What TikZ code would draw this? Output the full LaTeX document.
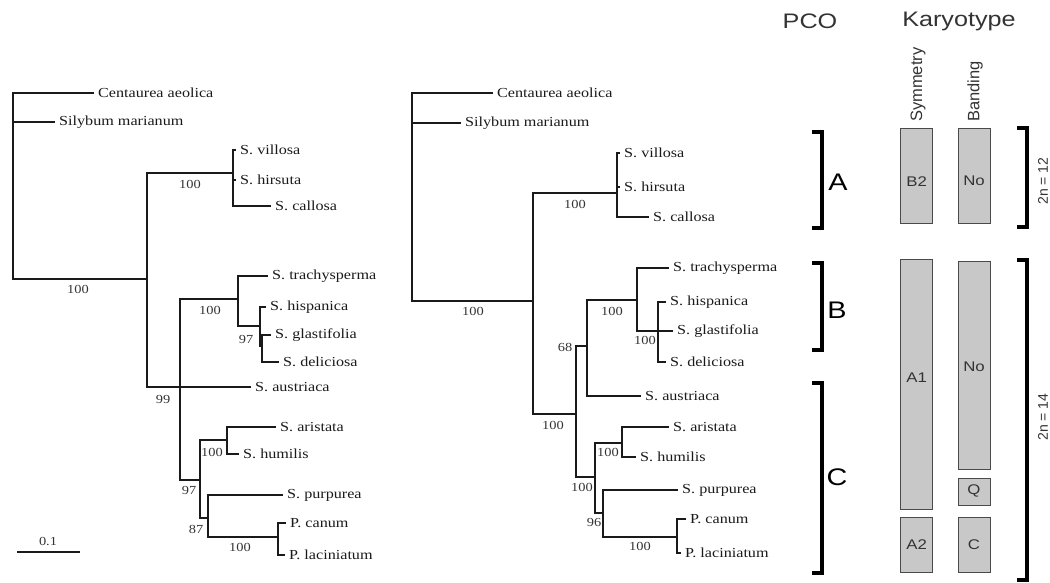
\documentclass[tikz,border=0pt]{standalone}
\usepackage{fontspec}
\setmainfont{Liberation Serif}[FakeStretch=1.17]
\newfontfamily\arialwide{Liberation Sans}[FakeStretch=1.2]
\newfontfamily\arialfont{Liberation Sans}
\definecolor{inkA}{HTML}{1A1A1A}
\definecolor{inkB}{HTML}{333333}
\definecolor{boxfill}{HTML}{C8C8C8}
\definecolor{boxline}{HTML}{4A4A4A}
\begin{document}
\begin{tikzpicture}[x=1pt,y=-1pt,
  branch/.style={line width=1.9pt, draw=inkA, line cap=rect, line join=miter},
  taxon/.style={anchor=west, inner sep=0pt, text=inkA, font=\fontsize{13.8}{16}\selectfont},
  boot/.style={inner sep=0pt, text=inkB, font=\fontsize{12.3}{14}\selectfont},
  brk/.style={line width=3.4pt, draw=black, line join=miter},
  kbox/.style={fill=boxfill, draw=boxline, line width=0.9pt},
  ktext/.style={inner sep=0pt, text=inkB, font=\arialwide\fontsize{14}{16}\selectfont},
  head/.style={inner sep=0pt, text=inkB, font=\arialwide\fontsize{21}{24}\selectfont},
  colhead/.style={inner sep=0pt, text=inkB, rotate=90, anchor=west, font=\arialfont\fontsize{16.5}{18}\selectfont},
  group/.style={inner sep=0pt, text=black, font=\arialwide\fontsize{24}{26}\selectfont},
  chrom/.style={inner sep=0pt, text=inkB, rotate=90, font=\arialfont\fontsize{14}{16}\selectfont}]
\useasboundingbox (0,0) rectangle (1050,583);

% ---------------- left tree ----------------
\coordinate (Lr) at (13,279);
\coordinate (Lcen) at (93,93);
\coordinate (Lsil) at (54,122);
\coordinate (Ln1) at (147,279);
\coordinate (LnA) at (233,173);
\coordinate (Lvil) at (235,150);
\coordinate (Lhir) at (235,180);
\coordinate (Lcal) at (270,206);
\coordinate (Ln2) at (180,387);
\coordinate (Laus) at (250,387);
\coordinate (LnB) at (238,299);
\coordinate (Ltra) at (267,276);
\coordinate (LnB2) at (260,326);
\coordinate (Lhis) at (265,307);
\coordinate (LnB3) at (262,346);
\coordinate (Lgla) at (270,335);
\coordinate (Ldel) at (278,362);
\coordinate (LnC) at (200,480);
\coordinate (LnC1) at (227,440);
\coordinate (Lari) at (275,427);
\coordinate (Lhum) at (238,454);
\coordinate (LnC2) at (208,518);
\coordinate (Lpur) at (282,495);
\coordinate (LnC3) at (278,537);
\coordinate (Lcan) at (285,523);
\coordinate (Llac) at (284,555);

\foreach \p/\c in {Lr/Lcen, Lr/Lsil, Lr/Ln1, Ln1/LnA, LnA/Lvil, LnA/Lhir, LnA/Lcal,
  Ln1/Ln2, Ln2/Laus, Ln2/LnB, LnB/Ltra, LnB/LnB2, LnB2/Lhis, LnB2/LnB3, LnB3/Lgla,
  LnB3/Ldel, Ln2/LnC, LnC/LnC1, LnC1/Lari, LnC1/Lhum, LnC/LnC2, LnC2/Lpur,
  LnC2/LnC3, LnC3/Lcan, LnC3/Llac}
  \draw[branch] (\p) |- (\c);

\foreach \c/\t in {Lcen/Centaurea aeolica, Lsil/Silybum marianum, Lvil/S. villosa,
  Lhir/S. hirsuta, Lcal/S. callosa, Ltra/S. trachysperma, Lhis/S. hispanica,
  Lgla/S. glastifolia, Ldel/S. deliciosa, Laus/S. austriaca, Lari/S. aristata,
  Lhum/S. humilis, Lpur/S. purpurea, Lcan/P. canum, Llac/P. laciniatum}
  \node[taxon] (t\c) at ([xshift=5pt]\c) {\t};

\node[boot] (bL1) at (78,289) {100};
\node[boot] (bL2) at (190,184) {100};
\node[boot] (bL3) at (163,399) {99};
\node[boot] (bL4) at (210,310) {100};
\node[boot] (bL5) at (246,339) {97};
\node[boot] (bL6) at (189,490) {97};
\node[boot] (bL7) at (212,452) {100};
\node[boot] (bL8) at (196,529) {87};
\node[boot] (bL9) at (240,547) {100};

% scale bar
\coordinate (sb0) at (17,552);
\coordinate (sb1) at (80,552);
\draw[branch, line cap=butt] (sb0) -- (sb1);
\node[boot] (sbl) at (48,541) {0.1};

% ---------------- middle tree ----------------
\coordinate (Mr) at (412,301);
\coordinate (Mcen) at (492,93);
\coordinate (Msil) at (460,123);
\coordinate (Mn1) at (533,301);
\coordinate (MnA) at (617,193);
\coordinate (Mvil) at (619,153);
\coordinate (Mhir) at (619,187);
\coordinate (Mcal) at (648,217);
\coordinate (Mn2) at (576,414);
\coordinate (Mn3) at (587,346);
\coordinate (MnB) at (637,300);
\coordinate (Mtra) at (668,268);
\coordinate (MnB2) at (658,331);
\coordinate (Mhis) at (665,302);
\coordinate (Mgla) at (672,331);
\coordinate (Mdel) at (665,362);
\coordinate (Maus) at (640,396);
\coordinate (MnC) at (595,477);
\coordinate (MnC1) at (622,443);
\coordinate (Mari) at (668,427);
\coordinate (Mhum) at (635,457);
\coordinate (MnC2) at (603,513);
\coordinate (Mpur) at (677,490);
\coordinate (MnC3) at (677,537);
\coordinate (Mcan) at (685,519);
\coordinate (Mlac) at (680,553);

\foreach \p/\c in {Mr/Mcen, Mr/Msil, Mr/Mn1, Mn1/MnA, MnA/Mvil, MnA/Mhir, MnA/Mcal,
  Mn1/Mn2, Mn2/Mn3, Mn3/MnB, MnB/Mtra, MnB/MnB2, MnB2/Mhis, MnB2/Mgla, MnB2/Mdel,
  Mn3/Maus, Mn2/MnC, MnC/MnC1, MnC1/Mari, MnC1/Mhum, MnC/MnC2, MnC2/Mpur,
  MnC2/MnC3, MnC3/Mcan, MnC3/Mlac}
  \draw[branch] (\p) |- (\c);

\foreach \c/\t in {Mcen/Centaurea aeolica, Msil/Silybum marianum, Mvil/S. villosa,
  Mhir/S. hirsuta, Mcal/S. callosa, Mtra/S. trachysperma, Mhis/S. hispanica,
  Mgla/S. glastifolia, Mdel/S. deliciosa, Maus/S. austriaca, Mari/S. aristata,
  Mhum/S. humilis, Mpur/S. purpurea, Mcan/P. canum, Mlac/P. laciniatum}
  \node[taxon] (t\c) at ([xshift=5pt]\c) {\t};

\node[boot] (bM1) at (473,311) {100};
\node[boot] (bM2) at (575,204) {100};
\node[boot] (bM3) at (553,425) {100};
\node[boot] (bM4) at (565,347) {68};
\node[boot] (bM5) at (612,311) {100};
\node[boot] (bM6) at (645,340) {100};
\node[boot] (bM7) at (582,487) {100};
\node[boot] (bM8) at (608,452) {100};
\node[boot] (bM9) at (594,522) {96};
\node[boot] (bM10) at (640,546) {100};

% ---------------- PCO groups ----------------
\node[head] (pco) at (810,21) {PCO};
\draw[brk] (812,132) -- (822,132) -- (822,228) -- (812,228);
\node[group] (gA) at (838,182) {A};
\draw[brk] (812,263) -- (822,263) -- (822,350) -- (812,350);
\node[group] (gB) at (837,310) {B};
\draw[brk] (812,383) -- (822,383) -- (822,573) -- (812,573);
\node[group] (gC) at (837,477) {C};

% ---------------- karyotype ----------------
\node[head] (karyo) at (959,21) {Karyotype};
\node[colhead] (symh) at (918,122) {Symmetry};
\node[colhead] (banh) at (975,122) {Banding};

\draw[kbox] (900.7,128) rectangle (932.7,223);
\node[ktext] (sB2) at (916.7,182) {B2};
\draw[kbox] (900.7,259) rectangle (932.7,509);
\node[ktext] (sA1) at (916.7,378) {A1};
\draw[kbox] (900.7,517) rectangle (932.7,572);
\node[ktext] (sA2) at (916.7,545) {A2};

\draw[kbox] (958,128) rectangle (990,223);
\node[ktext] (bNo1) at (974,181) {No};
\draw[kbox] (958,261) rectangle (990,469);
\node[ktext] (bNo2) at (974,367) {No};
\draw[kbox] (958,478) rectangle (990,505);
\node[ktext] (bQ) at (974,491) {Q};
\draw[kbox] (958,517) rectangle (990,572);
\node[ktext] (bC) at (974,545) {C};

% chromosome numbers
\draw[brk] (1017,128) -- (1027,128) -- (1027,227) -- (1017,227);
\node[chrom] (n12) at (1043,181) {2n = 12};
\draw[brk] (1017,260) -- (1027,260) -- (1027,580) -- (1017,580);
\node[chrom] (n14) at (1043,417) {2n = 14};
\end{tikzpicture}
\end{document}
